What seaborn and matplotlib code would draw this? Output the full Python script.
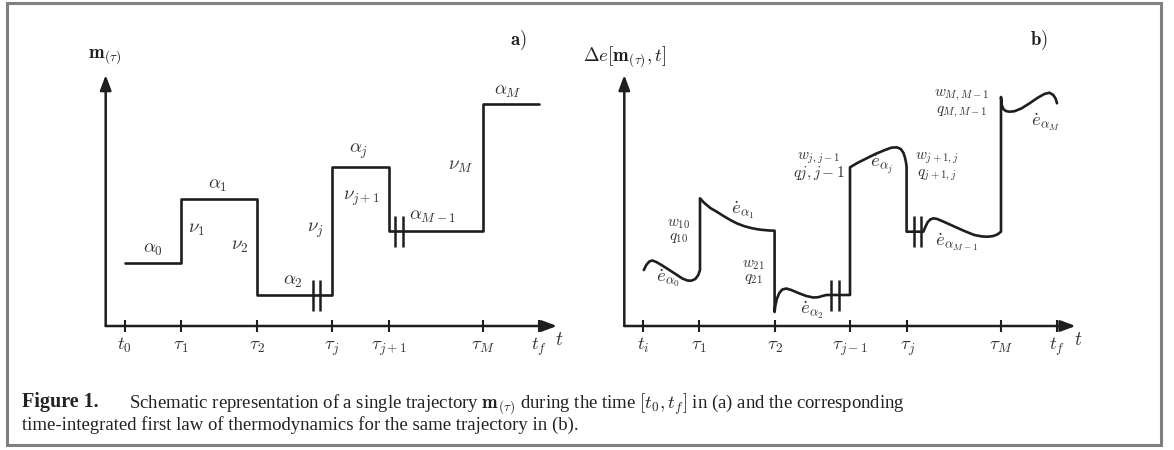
import matplotlib
matplotlib.use("Agg")
import matplotlib.pyplot as plt
import seaborn as sns
import pandas as pd
from matplotlib.patches import Rectangle

# ---------------- data ----------------
tick_pos = [19, 75, 151, 226, 283, 377, 433]
ticks_a = [r'$t_0$', r'$\tau_1$', r'$\tau_2$', r'$\tau_j$', r'$\tau_{j+1}$', r'$\tau_M$', r'$t_f$']
ticks_b = [r'$t_i$', r'$\tau_1$', r'$\tau_2$', r'$\tau_{j-1}$', r'$\tau_j$', r'$\tau_M$', r'$t_f$']

# panel a: occupation levels of the states alpha_0 ... alpha_M
levels_a = [63, 127, 31, 159, 95, 222]
# break marks: (x1, x2, y-centre)
breaks_x1 = [207, 289.5]
breaks_x2 = [214.3, 297]
breaks_y = [31, 95]

# panel b: energy trajectory segments
seg_a0_x = [19.5, 22, 25, 28, 32, 38, 45, 52, 58, 63, 67, 71, 74, 75.7]
seg_a0_y = [56, 61, 64.5, 65.5, 64, 60.5, 56, 51.5, 47.5, 45.5, 45.3, 47, 51, 56]
seg_a1_x = [75.7, 75.7, 80, 86, 92.4, 100, 106, 112.4, 120, 128, 136, 145, 150.3]
seg_a1_y = [56, 127.7, 123, 118, 114.3, 109.5, 106, 102.7, 99.8, 97.7, 96.3, 95.5, 95.3]
seg_a2_x = [150.3, 150.3, 151, 152.5, 155, 158, 162, 167, 174, 182, 189, 194, 198, 202, 225.7]
seg_a2_y = [95.3, 14, 20, 27, 33, 36.5, 37.5, 36, 33, 30, 28.5, 28.8, 30, 31, 31]
seg_aj_x = [225.7, 225.7, 233, 242.4, 251, 260.7, 267, 272.4, 276.5, 279.2, 280.8, 281.8, 282.3, 282.3]
seg_aj_y = [31, 158.7, 163, 167.7, 172, 176, 178.3, 178.7, 177, 173, 168, 163, 159, 94.3]
seg_aM1_x = [282.3, 299, 301, 303.5, 306, 309, 313, 320, 330, 340, 350, 358, 364, 369, 373, 376.7]
seg_aM1_y = [94.3, 94.3, 99, 104, 106.5, 107.7, 107, 104, 99.5, 95, 91, 89.5, 89.3, 90, 91.5, 94.3]
seg_aM_x = [376.7, 376.7, 377.5, 379, 381.5, 385, 390, 397, 405, 413, 420, 425, 429, 431.5, 432.7]
seg_aM_y = [94.3, 229, 221, 217, 215, 214.3, 214.7, 217.5, 222.5, 228, 232, 233.3, 231, 227, 222.7]

# labels panel a: (text, x, y)
labels_a = [
    (r'$\alpha_0$', 47, 76), (r'$\alpha_1$', 112.3, 140), (r'$\alpha_2$', 187.3, 44.3),
    (r'$\alpha_j$', 253.3, 174.3), (r'$\alpha_{M-1}$', 327.3, 109.3), (r'$\alpha_M$', 402.3, 234.3),
    (r'$\nu_1$', 91, 96), (r'$\nu_2$', 134.3, 79.3), (r'$\nu_j$', 209.3, 96),
    (r'$\nu_{j+1}$', 256, 128), (r'$\nu_M$', 354.3, 159.3),
]
labels_b_big = [
    (r'$\dot{e}_{\alpha_0}$', 44, 47.7), (r'$\dot{e}_{\alpha_1}$', 119, 116),
    (r'$\dot{e}_{\alpha_2}$', 187.5, 16), (r'$\dot{e}_{\alpha_j}$', 257, 161),
    (r'$\dot{e}_{\alpha_{M-1}}$', 332, 83.5), (r'$\dot{e}_{\alpha_M}$', 421.4, 204.3),
]
# work / heat pairs: (upper, lower, x, y-centre)
labels_b_pairs = [
    (r'$w_{10}$', r'$q_{10}$', 54, 95),
    (r'$w_{21}$', r'$q_{21}$', 129, 54),
    (r'$w_{j,j-1}$', r'$qj,j-1$', 194.7, 159.5),
    (r'$w_{j+1,j}$', r'$q_{j+1,j}$', 312.5, 159),
    (r'$w_{M,M-1}$', r'$q_{M,M-1}$', 337.5, 222),
]

caption1 = (r'Schematic representation of a single trajectory $\mathbf{m}_{(\tau)}$ during the time '
            r'$[t_0, t_f]$ in (a) and the corresponding')
caption2 = 'time-integrated first law of thermodynamics for the same trajectory in (b).'

# ---------------- style ----------------
sns.set_style('white')
plt.rcParams['mathtext.fontset'] = 'cm'
plt.rcParams['font.family'] = ['Liberation Serif', 'DejaVu Sans']

LC = '#1e1e1e'
TC = '#333333'
W, H = 1174, 450
AX_W, AX_H = 451.3, 251

fig = plt.figure(figsize=(11.74, 4.5), dpi=100)
fig.patch.set_facecolor('white')


def make_axes(x0px, ticklabels):
    ax = fig.add_axes([x0px / W, (H - 326) / H, AX_W / W, AX_H / H])
    ax.set_xlim(0, AX_W)
    ax.set_ylim(0, AX_H)
    for s in ax.spines.values():
        s.set_visible(False)
    ax.set_facecolor('none')
    ax.set_yticks([])
    ax.set_xticks(tick_pos, ticklabels)
    ax.tick_params(axis='x', direction='inout', length=8, width=1.5, color=LC,
                   pad=13.3, labelsize=13.5, labelcolor=TC, bottom=True)
    for lbl in ax.get_xticklabels():
        lbl.set_verticalalignment('baseline')
    ap = dict(arrowstyle='-|>,head_length=0.75,head_width=0.28', color=LC, lw=1.8,
              shrinkA=0, shrinkB=0, mutation_scale=12)
    ax.annotate('', xy=(AX_W, 0), xytext=(0, 0), arrowprops=ap, annotation_clip=False)
    ax.annotate('', xy=(0, AX_H), xytext=(0, 0), arrowprops=ap, annotation_clip=False)
    ax.text(454, -19, r'$t$', ha='center', va='baseline', fontsize=14, color=TC, clip_on=False)
    for x1, x2, yc in zip(breaks_x1, breaks_x2, breaks_y):
        for xb in (x1, x2):
            ax.plot([xb, xb], [yc - 15.5, yc + 15.5], color=LC, lw=1.8, solid_capstyle='butt')
    return ax


# ---------------- panel a ----------------
axa = make_axes(105.7, ticks_a)
step_x, step_y = [], []
for i, lev in enumerate(levels_a):
    step_x += [tick_pos[i], tick_pos[i + 1]]
    step_y += [lev, lev]
dfa = pd.DataFrame({'t': step_x, 'm': step_y})
sns.lineplot(data=dfa, x='t', y='m', sort=False, estimator=None, color=LC, lw=1.9,
             ax=axa, legend=False)
axa.set_xlabel('')
axa.set_ylabel('')
for s, x, y in labels_a:
    axa.text(x, y, s, ha='center', va='center', fontsize=13.5, color=TC)
axa.text(-0.7, 269.3, r'$\mathbf{m}_{(\tau)}$', ha='center', va='center', fontsize=13.5,
         color=LC, clip_on=False)
axa.text(412.3, 286, r'$\mathbf{a)}$', ha='center', va='center', fontsize=13.5, color=LC,
         clip_on=False)

# ---------------- panel b ----------------
axb = make_axes(624.3, ticks_b)
bx = seg_a0_x + seg_a1_x + seg_a2_x + seg_aj_x + seg_aM1_x + seg_aM_x
by = seg_a0_y + seg_a1_y + seg_a2_y + seg_aj_y + seg_aM1_y + seg_aM_y
dfb = pd.DataFrame({'t': bx, 'e': by})
sns.lineplot(data=dfb, x='t', y='e', sort=False, estimator=None, color=LC, lw=1.9,
             ax=axb, legend=False)
axb.set_xlabel('')
axb.set_ylabel('')
for s, x, y in labels_b_big:
    axb.text(x, y, s, ha='center', va='center', fontsize=13.5, color=TC)
for s1, s2, x, y in labels_b_pairs:
    axb.text(x, y, s1 + '\n' + s2, ha='center', va='center', fontsize=11,
             color=TC, linespacing=0.95, multialignment='center')
axb.text(0, 269.3, r'$\Delta e[\mathbf{m}_{(\tau)}, t]$', ha='center', va='center',
         fontsize=13.5, color=LC, clip_on=False)
axb.text(414.3, 286, r'$\mathbf{b)}$', ha='center', va='center', fontsize=13.5, color=LC,
         clip_on=False)

# ---------------- caption and frame ----------------
fig.text(22 / W, 1 - 407 / H, 'Figure 1.', fontweight='bold', fontsize=14.5,
         color='#222222', va='baseline', ha='left')
fig.text(129 / W, 1 - 407 / H, caption1, fontsize=13.5, color='#222222', va='baseline', ha='left')
fig.text(22 / W, 1 - 430 / H, caption2, fontsize=13.5, color='#222222', va='baseline', ha='left')

fig.patches.append(Rectangle((7 / W, (H - 445) / H), 1154 / W, 442 / H, transform=fig.transFigure,
                             fill=False, edgecolor='#808080', lw=2.2))

fig.savefig('out.png', dpi=100)
